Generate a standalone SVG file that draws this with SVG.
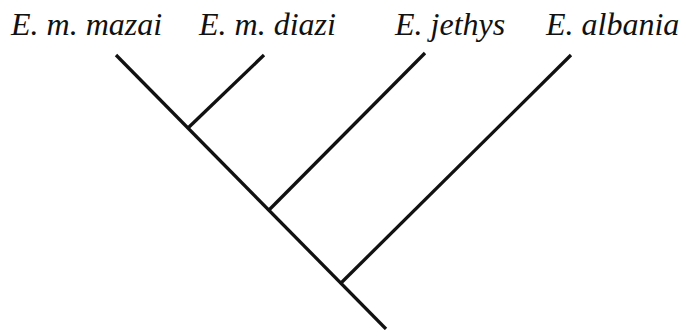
<svg xmlns="http://www.w3.org/2000/svg" width="688" height="330" viewBox="0 0 688 330">
<style>
.lbl{font-family:"Liberation Serif","Times New Roman",serif;font-style:italic;font-size:32px;fill:#111}
.br{stroke:#111;stroke-width:3.3;stroke-linecap:butt;fill:none}
</style>
<rect width="688" height="330" fill="#fff"/>
<g id="labels">
<text id="t1" class="lbl" x="11" y="35">E. m. mazai</text>
<text id="t2" class="lbl" x="199" y="35">E. m. diazi</text>
<text id="t3" class="lbl" x="395" y="35">E. jethys</text>
<text id="t4" class="lbl" x="546" y="35">E. albania</text>
</g>
<g id="connectors">
<line class="br" x1="116" y1="55" x2="386" y2="329"/>
<line class="br" x1="188" y1="128" x2="264" y2="55"/>
<line class="br" x1="268" y1="211" x2="425" y2="53"/>
<line class="br" x1="340" y1="284" x2="571" y2="55"/>
</g>
</svg>
